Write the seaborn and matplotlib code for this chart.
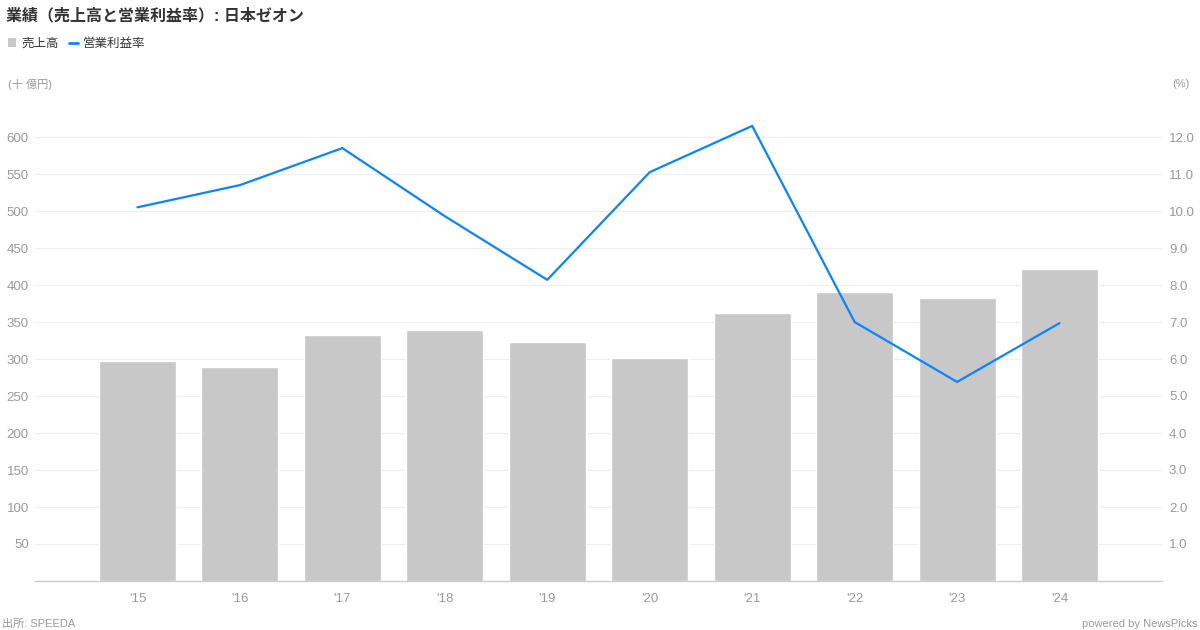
import numpy as np
import pandas as pd
import seaborn as sns
import matplotlib.pyplot as plt
from matplotlib.patches import Patch
from matplotlib.lines import Line2D

years = ["'15", "'16", "'17", "'18", "'19", "'20", "'21", "'22", "'23", "'24"]
sales = [297, 289, 333, 339, 323, 302, 362, 390, 383, 421]          # 十億円
op_margin = [10.1, 10.7, 11.7, 9.86, 8.14, 11.05, 12.3, 7.0, 5.38, 6.97]  # %

bar_color = '#c8c8c8'
line_color = '#0a84ff'
tick_color = '#999999'

sns.set_theme(style='white')
plt.rcParams['font.family'] = ['Liberation Sans', 'Noto Sans CJK JP', 'DejaVu Sans']

df = pd.DataFrame({'year': years, 'sales': sales, 'margin': op_margin})

fig = plt.figure(figsize=(12, 6.3), dpi=100)
ax = fig.add_axes([35 / 1200, 1 - 581 / 630, 1127 / 1200, 481 / 630])

sns.barplot(data=df, x='year', y='sales', color=bar_color, width=0.75,
            saturation=1, ax=ax, zorder=2)
ax.set_xlim(-1, len(years))
ax.set_ylim(0, 650)
ax.set_yticks(range(50, 650, 50))
ax.yaxis.grid(True, color='#eeeeee', linewidth=0.8, zorder=0)
ax.set_axisbelow(True)
ax.set_xlabel('')
ax.set_ylabel('')
ax.tick_params(axis='both', length=0, colors=tick_color, labelsize=9.5)
ax.tick_params(axis='x', pad=8.5)
ax.tick_params(axis='y', pad=4.5)
for s in ['top', 'left', 'right']:
    ax.spines[s].set_visible(False)
ax.spines['bottom'].set_color('#cccccc')
ax.spines['bottom'].set_linewidth(1)

ax2 = ax.twinx()
sns.lineplot(x=np.arange(len(years)), y=df['margin'], color=line_color,
             linewidth=1.6, ax=ax2)
ax2.set_ylim(0, 13)
ax2.set_yticks(range(1, 13))
ax2.set_yticklabels([f'{v:.1f}' for v in range(1, 13)])
ax2.set_ylabel('')
ax2.grid(False)
ax2.tick_params(axis='y', length=0, colors=tick_color, labelsize=9.5, pad=5)
for s in ['top', 'left', 'right', 'bottom']:
    ax2.spines[s].set_visible(False)

fig.text(6 / 1200, 1 - 16 / 630, '業績（売上高と営業利益率）: 日本ゼオン',
         fontsize=11.5, fontweight='bold', color='#333333', va='center')

handles = [Patch(facecolor=bar_color, edgecolor='none'),
           Line2D([0], [0], color=line_color, linewidth=2)]
fig.legend(handles, ['売上高', '営業利益率'], loc='center left',
           bbox_to_anchor=(-0.002, 1 - 44 / 630), ncol=2, frameon=False,
           fontsize=9, handlelength=0.7, handleheight=0.7, handletextpad=0.4,
           columnspacing=0.8, labelcolor='#333333', borderpad=0.3)

fig.text(8 / 1200, 1 - 84 / 630, '(十 億円)', fontsize=8, color=tick_color, va='center')
fig.text(1190 / 1200, 1 - 84 / 630, '(%)', fontsize=8, color=tick_color,
         va='center', ha='right')
fig.text(2 / 1200, 1 - 624 / 630, '出所: SPEEDA', fontsize=8, color=tick_color,
         va='center')
fig.text(1197 / 1200, 1 - 624 / 630, 'powered by NewsPicks', fontsize=8,
         color=tick_color, va='center', ha='right')

fig.savefig('out.png', dpi=100)
